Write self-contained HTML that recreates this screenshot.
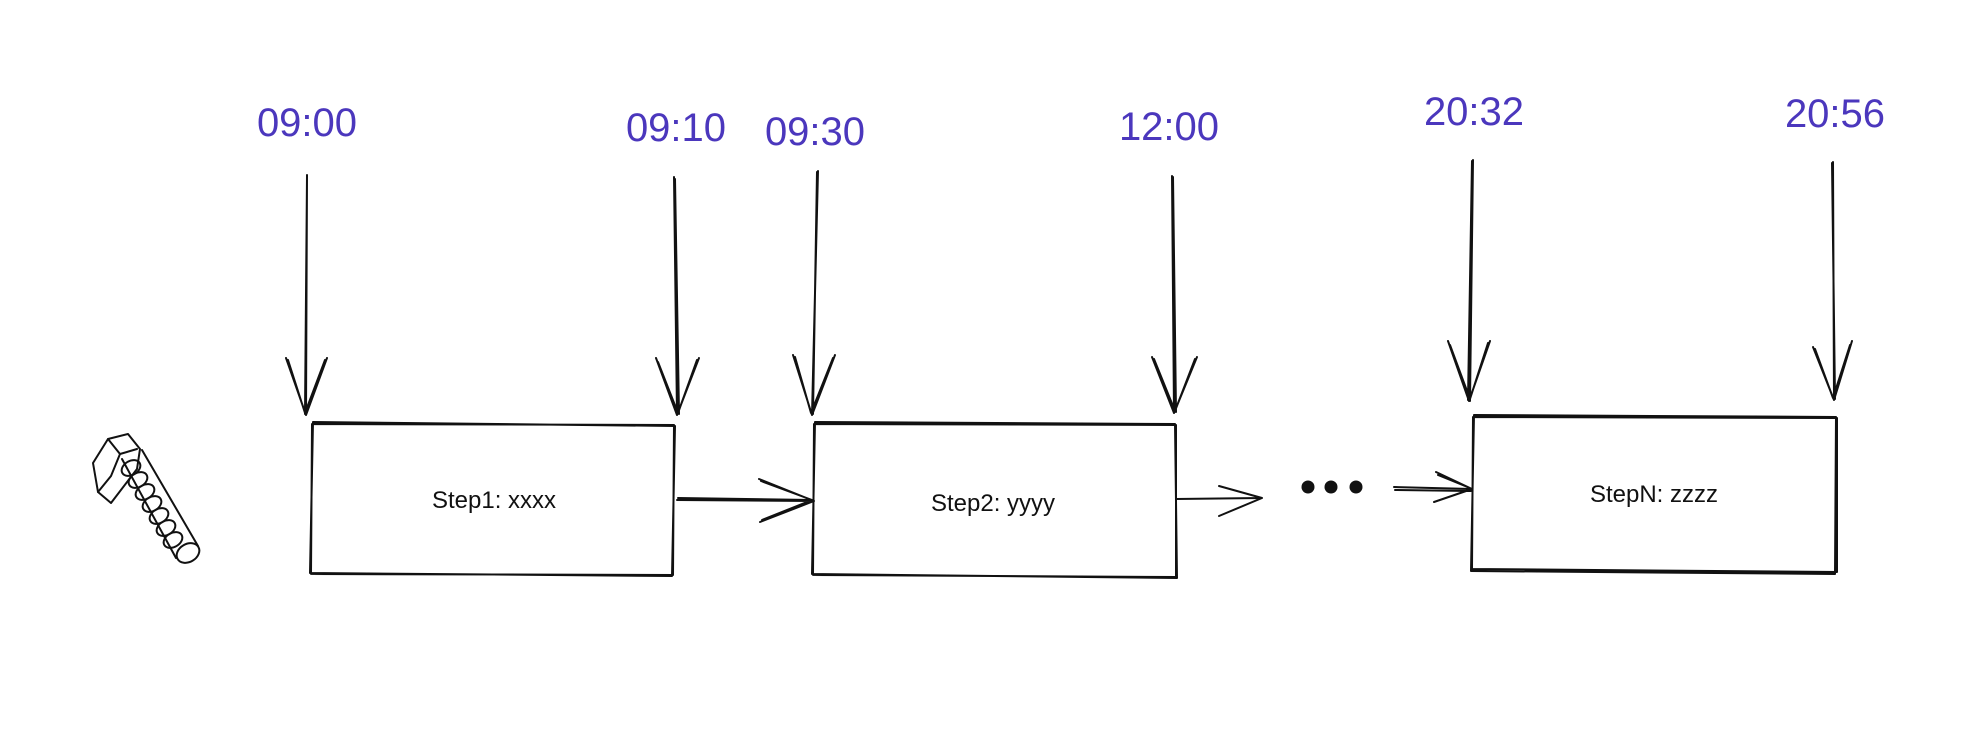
<!DOCTYPE html>
<html><head><meta charset="utf-8"><style>
html,body{margin:0;padding:0;background:#fff;overflow:hidden;}
svg{display:block;}
.t{font-family:"Liberation Sans",sans-serif;fill:#4b37bd;font-size:40px;text-anchor:middle;}
.s{font-family:"Liberation Sans",sans-serif;fill:#111;font-size:24px;text-anchor:middle;}
.l{stroke:#111;stroke-width:2;fill:none;stroke-linecap:round;stroke-linejoin:round;}
</style></head><body>
<svg width="1966" height="732" viewBox="0 0 1966 732" xmlns="http://www.w3.org/2000/svg">
<rect width="1966" height="732" fill="#fff"/>
<text class="t" x="307" y="136">09:00</text>
<text class="t" x="676" y="141">09:10</text>
<text class="t" x="815" y="145">09:30</text>
<text class="t" x="1169" y="140">12:00</text>
<text class="t" x="1474" y="125">20:32</text>
<text class="t" x="1835" y="127">20:56</text>
<g class="l">
<path d="M307 175 L306 415 M307 176 L305 414 M286 358 L306 415 L327 358 M288 360 L305 413 L325 360"/>
<path d="M674 177 L677 415 M675 179 L679 414 M656 358 L677 415 L699 358 M658 362 L678 413 L697 360"/>
<path d="M818 171 L812 415 M817 172 L813 414 M793 355 L812 415 L835 355 M795 357 L811 413 L833 358"/>
<path d="M1172 176 L1174 413 M1173 177 L1176 412 M1152 357 L1174 413 M1197 357 L1174 413 M1154 359 L1175 411 L1195 359"/>
<path d="M1473 160 L1470 401 M1472 161 L1468 400 M1448 341 L1469 401 L1490 341 M1450 345 L1470 399 L1488 343"/>
<path d="M1833 162 L1834 400 M1832 163 L1835 399 M1813 347 L1834 400 L1852 341 M1815 349 L1833 398 L1850 345"/>
</g>
<g class="l">
<path d="M312 424 L674 425 L673 575 L311 574 Z M313 422 L675 426 L672 576 L310 573 Z"/>
<path d="M814 424 L1176 425 L1176 577 L813 575 Z M815 422 L1175 424 L1177 578 L812 574 Z"/>
<path d="M1473 417 L1837 418 L1837 572 L1472 569 Z M1474 415 L1836 417 L1835 574 L1471 571 Z"/>
</g>
<text class="s" x="494" y="508">Step1: xxxx</text>
<text class="s" x="993" y="511">Step2: yyyy</text>
<text class="s" x="1654" y="502">StepN: zzzz</text>
<g class="l">
<path d="M677 500 L814 501 M678 498 L812 500 M759 479 L814 501 L760 522 M761 481 L812 500 L762 520"/>
<path d="M1176 499 L1262 498 M1219 486 L1262 498 L1219 516"/>
<path d="M1394 487 L1472 489 M1395 490 L1471 491 M1436 472 L1472 489 L1434 502 M1438 475 L1470 488"/>
</g>
<circle cx="1308" cy="487" r="6.5" fill="#111"/>
<circle cx="1331" cy="487" r="6.5" fill="#111"/>
<circle cx="1356" cy="487" r="6.5" fill="#111"/>
<g class="l" stroke-width="1.8" transform="translate(0,-154)">
<path d="M93 617 L108 593 L128 588 L140 603 L137 623 L111 657 L98 646 Z"/>
<path d="M108 593 L120 608 L137 603 M120 608 L111 630 L98 646"/>
<path d="M122 613 L176 712 M142 604 L198 700"/>
<ellipse cx="131" cy="622" rx="10" ry="7" transform="rotate(-30 131 622)"/>
<ellipse cx="138" cy="634" rx="10" ry="7" transform="rotate(-30 138 634)"/>
<ellipse cx="145" cy="646" rx="10" ry="7" transform="rotate(-30 145 646)"/>
<ellipse cx="152" cy="658" rx="10" ry="7" transform="rotate(-30 152 658)"/>
<ellipse cx="159" cy="670" rx="10" ry="7" transform="rotate(-30 159 670)"/>
<ellipse cx="166" cy="682" rx="10" ry="7" transform="rotate(-30 166 682)"/>
<ellipse cx="173" cy="694" rx="10" ry="7" transform="rotate(-30 173 694)"/>
<ellipse cx="188" cy="707" rx="12" ry="9" transform="rotate(-30 188 707)"/>
</g>
</svg>
</body></html>
